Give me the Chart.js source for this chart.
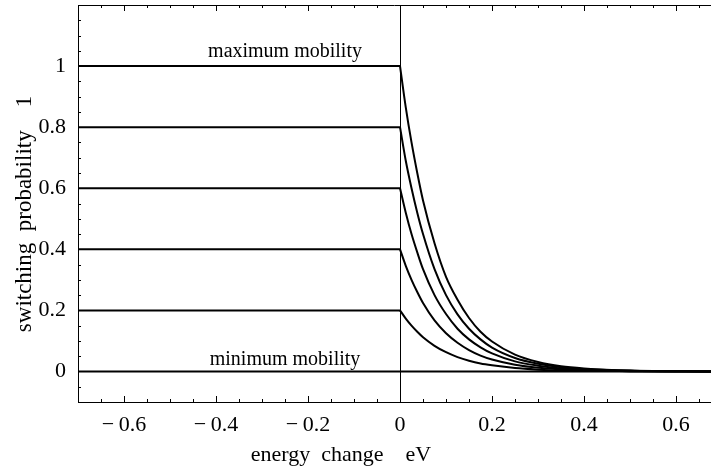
<!DOCTYPE html>
<html>
<head>
<meta charset="utf-8">
<script src="https://cdn.jsdelivr.net/npm/chart.js@4/dist/chart.umd.min.js"></script>
<style>
  html, body { margin: 0; padding: 0; background: #fff; overflow: hidden; }
  #c { display: block; }
</style>
</head>
<body>
<canvas id="c" width="711" height="468"></canvas>
<script>
// ---- data ----
const levels = [1, 0.8, 0.6, 0.4, 0.2, 0];
const xFlat = [-0.7, 0];
const xDecay = [0, 0.0125, 0.025, 0.0375, 0.05, 0.075, 0.1, 0.125, 0.15, 0.175, 0.2, 0.25, 0.3, 0.35, 0.4, 0.5, 0.68];
const decay10 = [1.0, 0.865, 0.75, 0.65, 0.56, 0.42, 0.31, 0.235, 0.175, 0.13, 0.098, 0.055, 0.031, 0.017, 0.010, 0.003, 0];
const decay08 = [0.8, 0.69, 0.60, 0.52, 0.45, 0.335, 0.25, 0.187, 0.14, 0.105, 0.078, 0.044, 0.025, 0.014, 0.008, 0.002, 0];
const decay06 = [0.6, 0.52, 0.45, 0.39, 0.335, 0.25, 0.188, 0.14, 0.105, 0.079, 0.059, 0.033, 0.019, 0.010, 0.006, 0.002, 0];
const decay04 = [0.4, 0.346, 0.30, 0.26, 0.224, 0.167, 0.125, 0.094, 0.070, 0.052, 0.039, 0.022, 0.012, 0.007, 0.004, 0.001, 0];
const decay02 = [0.2, 0.173, 0.15, 0.13, 0.112, 0.084, 0.063, 0.047, 0.035, 0.026, 0.020, 0.011, 0.006, 0.003, 0.002, 0.001, 0];
const decay00 = [0, 0, 0, 0, 0, 0, 0, 0, 0, 0, 0, 0, 0, 0, 0, 0, 0];
const decaySeries = [decay10, decay08, decay06, decay04, decay02, decay00];

const xTicks = [-0.6, -0.4, -0.2, 0, 0.2, 0.4, 0.6];
const xTickLabels = ["\u2212\u20090.6", "\u2212\u20090.4", "\u2212\u20090.2", "0", "0.2", "0.4", "0.6"];
const yTicks = [0, 0.2, 0.4, 0.6, 0.8, 1];
const yTickLabels = ["0", "0.2", "0.4", "0.6", "0.8", "1"];

const xTitle = "energy  change    eV";
const yTitle = "switching  probability    1";
const noteTexts = ["maximum mobility", "minimum mobility"];
const noteX = [-0.25, -0.25];
const noteY = [1.03, 0.022];

// ---- build datasets ----
const datasets = [];
levels.forEach((p, i) => {
  datasets.push({
    data: xFlat.map(x => ({ x: x, y: p })),
    borderColor: '#000', borderWidth: 2, pointRadius: 0, fill: false
  });
  datasets.push({
    data: xDecay.map((x, j) => ({ x: x, y: decaySeries[i][j] })),
    borderColor: '#000', borderWidth: 2, pointRadius: 0, fill: false,
    cubicInterpolationMode: 'monotone'
  });
});

const SERIF = "'Liberation Serif', 'DejaVu Serif', serif";

const decorPlugin = {
  id: 'decor',
  afterDraw(chart) {
    const ctx = chart.ctx;
    const a = chart.chartArea;
    const xs = chart.scales.x, ys = chart.scales.y;
    ctx.save();
    ctx.strokeStyle = '#000';
    ctx.lineWidth = 1;
    // top frame line
    ctx.beginPath();
    ctx.moveTo(a.left, a.top + 0.5);
    ctx.lineTo(a.right, a.top + 0.5);
    ctx.stroke();
    // inward ticks
    ctx.beginPath();
    for (let k = -14; k <= 13; k++) {
      const v = k * 0.05;
      const px = Math.round(xs.getPixelForValue(v)) + 0.5;
      if (px < a.left + 1 || px > a.right) continue;
      const major = (k % 4 === 0);
      const len = major ? 6 : 3;
      ctx.moveTo(px, a.bottom); ctx.lineTo(px, a.bottom - len);
      ctx.moveTo(px, a.top); ctx.lineTo(px, a.top + len);
    }
    for (let k = -2; k <= 24; k++) {
      const v = k * 0.05;
      const py = Math.round(ys.getPixelForValue(v)) + 0.5;
      if (py < a.top + 1 || py > a.bottom - 1) continue;
      const major = (k % 4 === 0);
      const len = major ? 6 : 3;
      ctx.moveTo(a.left, py); ctx.lineTo(a.left + len, py);
    }
    ctx.stroke();

    // annotations
    ctx.fillStyle = '#000';
    ctx.font = "20px " + SERIF;
    ctx.textAlign = 'center';
    ctx.textBaseline = 'alphabetic';
    noteTexts.forEach((t, i) => {
      ctx.fillText(t, xs.getPixelForValue(noteX[i]), ys.getPixelForValue(noteY[i]));
    });

    // axis titles
    ctx.font = "22px " + SERIF;
    ctx.textBaseline = 'middle';
    ctx.fillText(xTitle, 341, 455);
    ctx.font = "23px " + SERIF;
    ctx.translate(25, 214);
    ctx.rotate(-Math.PI / 2);
    ctx.fillText(yTitle, 0, 0);
    ctx.restore();
  }
};

new Chart(document.getElementById('c'), {
  type: 'line',
  data: { datasets: datasets },
  options: {
    responsive: false,
    devicePixelRatio: 1,
    animation: false,
    events: [],
    layout: { padding: { top: 5, right: 0, left: 0, bottom: 0 } },
    plugins: { legend: { display: false }, tooltip: { enabled: false }, title: { display: false } },
    scales: {
      x: {
        type: 'linear', min: -0.7, max: 0.676,
        afterBuildTicks: s => { s.ticks = xTicks.map(v => ({ value: v })); },
        afterFit: s => { s.height = 66; s.paddingLeft = 0; s.paddingRight = 0; },
        ticks: {
          color: '#000', padding: 10, maxRotation: 0, autoSkip: false,
          font: { family: SERIF, size: 22 },
          callback: (v) => { const i = xTicks.findIndex(t => Math.abs(t - v) < 1e-9); return i >= 0 ? xTickLabels[i] : ''; }
        },
        grid: {
          drawTicks: false, lineWidth: 1,
          color: c => (c.tick && Math.abs(c.tick.value) < 1e-9) ? '#000' : 'rgba(0,0,0,0)'
        },
        border: { display: true, color: '#000', width: 1 }
      },
      y: {
        type: 'linear', min: -0.1, max: 1.2,
        afterBuildTicks: s => { s.ticks = yTicks.map(v => ({ value: v })); },
        afterFit: s => { s.width = 78; s.paddingTop = 0; s.paddingBottom = 0; },
        ticks: {
          color: '#000', padding: 12, autoSkip: false,
          font: { family: SERIF, size: 22 },
          callback: (v) => { const i = yTicks.findIndex(t => Math.abs(t - v) < 1e-9); return i >= 0 ? yTickLabels[i] : ''; }
        },
        grid: { display: false, drawTicks: false },
        border: { display: true, color: '#000', width: 1 }
      }
    }
  },
  plugins: [decorPlugin]
});
</script>
</body>
</html>
